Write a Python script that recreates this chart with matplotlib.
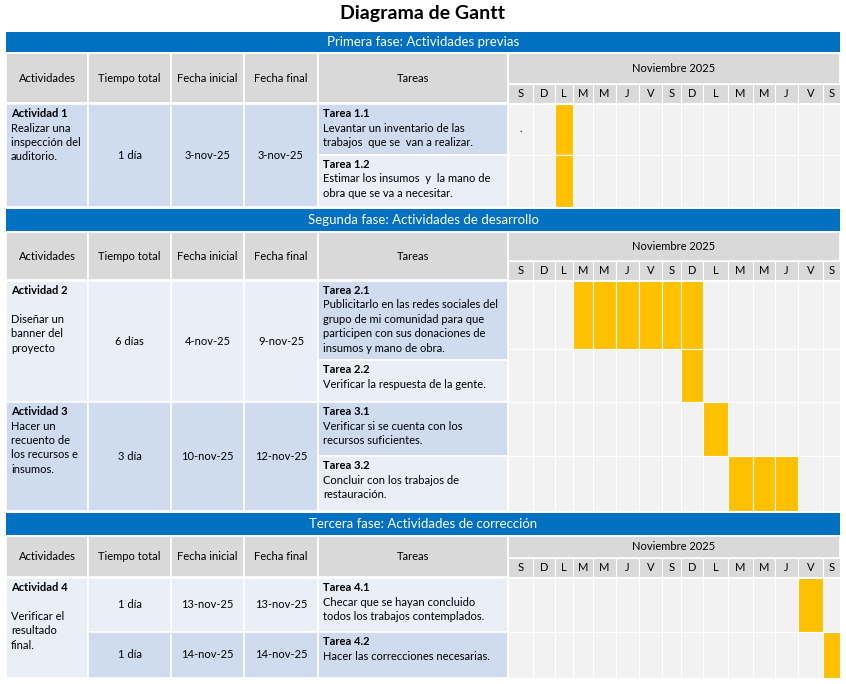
import matplotlib.pyplot as plt
from matplotlib.patches import Rectangle

plt.rcParams['font.family'] = ['Lato', 'DejaVu Sans']

# ---- data ----
title = 'Diagrama de Gantt'
phase_titles = ['Primera fase: Actividades previas',
                'Segunda fase: Actividades de desarrollo',
                'Tercera fase: Actividades de corrección']
header_cols = ['Actividades', 'Tiempo total', 'Fecha inicial', 'Fecha final', 'Tareas']
month_label = 'Noviembre 2025'
day_letters = ['S', 'D', 'L', 'M', 'M', 'J', 'V', 'S', 'D', 'L', 'M', 'M', 'J', 'V', 'S']

activity_names = ['Actividad 1', 'Actividad 2', 'Actividad 3', 'Actividad 4']
activity_texts = ['Realizar una\ninspección del\nauditorio.',
                  '\nDiseñar un\nbanner del\nproyecto',
                  'Hacer un\nrecuento de\nlos recursos e\ninsumos.',
                  '\nVerificar el\nresultado\nfinal.']
activity_blocks = [[0], [1], [2], [3, 4]]

block_tiempo = ['1 día', '6 días', '3 día', '1 día', '1 día']
block_inicio = ['3-nov-25', '4-nov-25', '10-nov-25', '13-nov-25', '14-nov-25']
block_fin = ['3-nov-25', '9-nov-25', '12-nov-25', '13-nov-25', '14-nov-25']
block_tasks = [[0, 1], [2, 3], [4, 5], [6], [7]]

task_titles = ['Tarea 1.1', 'Tarea 1.2', 'Tarea 2.1', 'Tarea 2.2',
               'Tarea 3.1', 'Tarea 3.2', 'Tarea 4.1', 'Tarea 4.2']
task_texts = ['Levantar un inventario de las\ntrabajos  que se  van a realizar.',
              'Estimar los insumos  y  la mano de\nobra que se va a necesitar.',
              'Publicitarlo en las redes sociales del\ngrupo de mi comunidad para que\nparticipen con sus donaciones de\ninsumos y mano de obra.',
              'Verificar la respuesta de la gente.',
              'Verificar si se cuenta con los\nrecursos suficientes.',
              'Concluir con los trabajos de\nrestauración.',
              'Checar que se hayan concluido\ntodos los trabajos contemplados.',
              'Hacer las correcciones necesarias.']
task_start = [2, 2, 3, 8, 9, 10, 13, 14]   # day index
task_end = [2, 2, 8, 8, 9, 12, 13, 14]

# ---- layout (pixels) ----
W, H = 846, 684
col_x = [6, 88, 171, 244, 318, 508]
day_x = [508, 533, 555, 573, 593, 616, 639, 662, 681, 703, 728, 753, 775, 798, 823, 840]
right = 840
phase_bar = [(32, 52), (209, 231), (513, 535)]
phase_head = [(53, 84, 103), (232, 261, 280), (536, 558, 577)]
task_rows = [(104, 155), (155, 207), (281, 349), (349, 402), (402, 456), (456, 511),
             (578, 632), (632, 678)]
tarea_cells = [(104, 155), (155, 207), (281, 360), (360, 402), (402, 456), (456, 511),
               (578, 632), (632, 678)]

blue = '#0070C0'
gray = '#D9D9D9'
dark = '#CFDBEF'
light = '#E9EEF7'
gantt_bg = '#F2F2F2'
bar_color = '#FFC000'
act_colors = [dark, light, dark, light]
block_colors = [dark, light, dark, light, dark]
task_colors = [dark, light, dark, light, dark, light, light, dark]
fs = 8
ls = 1.38

fig = plt.figure(figsize=(W / 100, H / 100), dpi=100)
ax = fig.add_axes([0, 0, 1, 1])
ax.set_xlim(0, W)
ax.set_ylim(H, 0)
ax.axis('off')


def cell(x0, y0, x1, y1, color, lw=1.2):
    ax.add_patch(Rectangle((x0, y0), x1 - x0, y1 - y0, facecolor=color,
                           edgecolor='white', linewidth=lw))


ax.text(W / 2, 13, title, ha='center', va='center', fontsize=14, fontweight='bold')

for p, ptitle in enumerate(phase_titles):
    b0, b1 = phase_bar[p]
    ax.add_patch(Rectangle((col_x[0], b0), right - col_x[0], b1 - b0, facecolor=blue,
                           edgecolor='none'))
    ax.text(W / 2, (b0 + b1) / 2, ptitle, ha='center', va='center', color='white',
            fontsize=9.5)
    h0, hm, h1 = phase_head[p]
    for i, name in enumerate(header_cols):
        cell(col_x[i], h0, col_x[i + 1], h1, gray)
        ax.text((col_x[i] + col_x[i + 1]) / 2, (h0 + h1) / 2, name, ha='center',
                va='center', fontsize=fs)
    cell(col_x[5], h0, right, hm, gray)
    ax.text((col_x[5] + right) / 2, (h0 + hm) / 2, month_label, ha='center',
            va='center', fontsize=fs)
    for d, letter in enumerate(day_letters):
        cell(day_x[d], hm, day_x[d + 1], h1, gray, lw=0.8)
        ax.text((day_x[d] + day_x[d + 1]) / 2, (hm + h1) / 2, letter, ha='center',
                va='center', fontsize=fs)

# activity cells
for a, name in enumerate(activity_names):
    tasks = [t for b in activity_blocks[a] for t in block_tasks[b]]
    y0 = task_rows[tasks[0]][0]
    y1 = task_rows[tasks[-1]][1]
    cell(col_x[0], y0, col_x[1], y1, act_colors[a])
    ax.text(col_x[0] + 5, y0 + 4, name, ha='left', va='top', fontsize=fs,
            fontweight='bold')
    ax.text(col_x[0] + 5, y0 + 18.5, activity_texts[a], ha='left', va='top',
            fontsize=fs, linespacing=ls)

# time / date cells
for b in range(len(block_tiempo)):
    y0 = task_rows[block_tasks[b][0]][0]
    y1 = task_rows[block_tasks[b][-1]][1]
    for i, val in enumerate([block_tiempo[b], block_inicio[b], block_fin[b]]):
        cell(col_x[i + 1], y0, col_x[i + 2], y1, block_colors[b])
        ax.text((col_x[i + 1] + col_x[i + 2]) / 2, (y0 + y1) / 2, val,
                ha='center', va='center', fontsize=fs)

# task cells and gantt grid
for t in range(len(task_titles)):
    c0, c1 = tarea_cells[t]
    cell(col_x[4], c0, col_x[5], c1, task_colors[t])
    ax.text(col_x[4] + 5, c0 + 4, task_titles[t], ha='left', va='top', fontsize=fs,
            fontweight='bold')
    ax.text(col_x[4] + 5, c0 + 18.5, task_texts[t], ha='left', va='top', fontsize=fs,
            linespacing=ls)
    r0, r1 = task_rows[t]
    for d in range(len(day_letters)):
        cell(day_x[d], r0, day_x[d + 1], r1, gantt_bg, lw=0.8)
    days = list(range(task_start[t], task_end[t] + 1))
    ax.bar([day_x[d] for d in days], r1 - r0, bottom=r0,
           width=[day_x[d + 1] - day_x[d] for d in days], align='edge',
           color=bar_color, edgecolor='white', linewidth=0.8)

ax.text((day_x[0] + day_x[1]) / 2, 128, '.', ha='center', va='center', fontsize=fs)

fig.savefig('out.png', dpi=100)
